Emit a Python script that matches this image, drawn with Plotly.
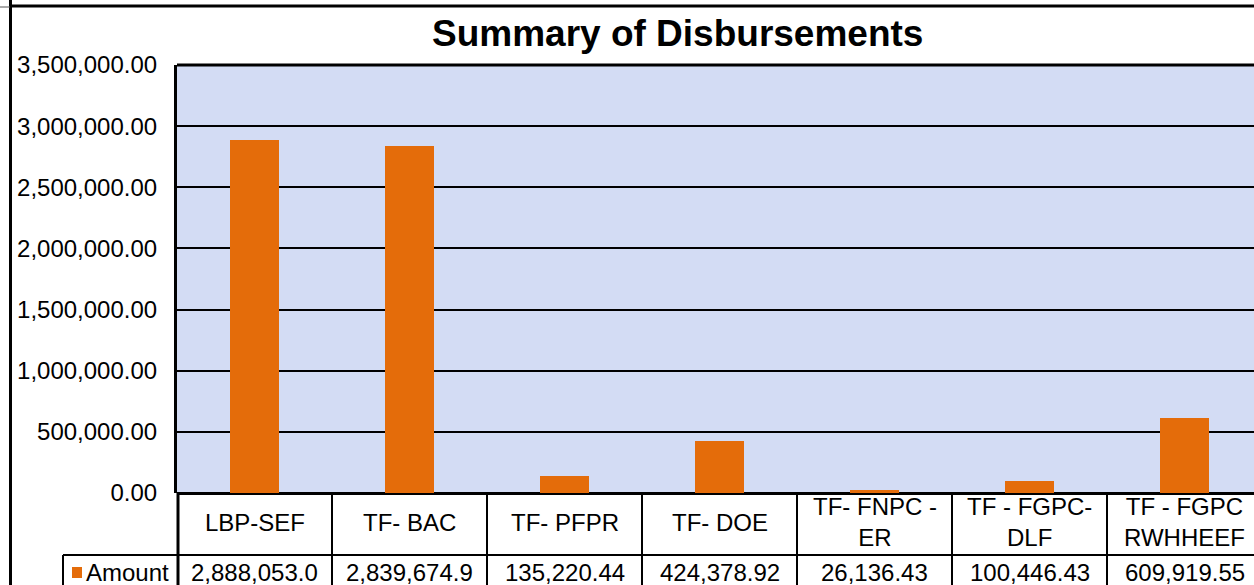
import plotly.graph_objects as go

categories = ["LBP-SEF", "TF- BAC", "TF- PFPR", "TF- DOE", "TF- FNPC -<br>ER", "TF - FGPC-<br>DLF", "TF - FGPC<br>RWHHEEF"]
amounts = [2888053.0, 2839674.9, 135220.44, 424378.92, 26136.43, 100446.43, 609919.55]
amount_labels = ["2,888,053.0", "2,839,674.9", "135,220.44", "424,378.92", "26,136.43", "100,446.43", "609,919.55"]
series_name = "Amount"
title = "Summary of Disbursements"

W, H = 1254, 585
L, R, T, B = 177, 0, 65, 92
PW, PH = W - L - R, H - T - B
COLW = 155.0
FONT = "Liberation Sans, Arial, sans-serif"
BAR = "#E46C0A"


def xp(px):
    return (px - L) / PW


def yp(py):
    return (H - B - py) / PH


fig = go.Figure()
fig.add_trace(go.Bar(x=list(range(len(categories))), y=amounts, width=0.32,
                     marker=dict(color=BAR, line=dict(width=0)), name=series_name,
                     hoverinfo="y"))

shapes = []
# outer frame
shapes.append(dict(type="line", xref="paper", yref="paper", x0=xp(10), x1=xp(W), y0=yp(6), y1=yp(6),
                   line=dict(color="black", width=3)))
shapes.append(dict(type="line", xref="paper", yref="paper", x0=xp(10.5), x1=xp(10.5), y0=yp(0), y1=yp(H),
                   line=dict(color="black", width=3)))
shapes.append(dict(type="line", xref="paper", yref="paper", x0=xp(0), x1=xp(10), y0=yp(7), y1=yp(7),
                   line=dict(color="#555555", width=1)))
# plot top border
shapes.append(dict(type="line", xref="paper", yref="paper", x0=xp(177), x1=xp(W), y0=1, y1=1,
                   line=dict(color="black", width=3)))
# table lines
shapes.append(dict(type="line", xref="paper", yref="paper", x0=xp(63), x1=xp(W), y0=yp(555), y1=yp(555),
                   line=dict(color="black", width=2)))
shapes.append(dict(type="line", xref="paper", yref="paper", x0=xp(63), x1=xp(63), y0=yp(555), y1=yp(H),
                   line=dict(color="black", width=2)))
shapes.append(dict(type="line", xref="paper", yref="paper", x0=xp(178), x1=xp(178), y0=0, y1=yp(H),
                   line=dict(color="black", width=3)))
for k in range(1, len(categories)):
    px = L + k * COLW
    shapes.append(dict(type="line", xref="paper", yref="paper", x0=xp(px), x1=xp(px), y0=0, y1=yp(H),
                       line=dict(color="black", width=2)))
# legend key
shapes.append(dict(type="rect", xref="paper", yref="paper", x0=xp(72), x1=xp(82), y0=yp(578), y1=yp(567),
                   fillcolor=BAR, line=dict(width=0)))

annotations = []
annotations.append(dict(text="<b>" + title + "</b>", xref="paper", yref="paper", x=xp(677), y=yp(33),
                        xanchor="center", yanchor="middle", showarrow=False,
                        font=dict(family=FONT, size=37, color="black")))
for i, (c, a) in enumerate(zip(categories, amount_labels)):
    annotations.append(dict(text=c, xref="x", yref="paper", x=i, y=yp(522), xanchor="center",
                            yanchor="middle", showarrow=False, align="center",
                            font=dict(family=FONT, size=24, color="black")))
    annotations.append(dict(text=a, xref="x", yref="paper", x=i, y=yp(572), xanchor="center",
                            yanchor="middle", showarrow=False,
                            font=dict(family=FONT, size=24, color="black")))
annotations.append(dict(text=series_name, xref="paper", yref="paper", x=xp(84), y=yp(572), xanchor="left",
                        yanchor="middle", showarrow=False, font=dict(family=FONT, size=24, color="black")))

fig.update_layout(
    width=W, height=H,
    margin=dict(l=L, r=R, t=T, b=B, pad=0),
    paper_bgcolor="white",
    plot_bgcolor="#D3DCF4",
    showlegend=False,
    bargap=0,
    font=dict(family=FONT, size=24, color="black"),
    xaxis=dict(range=[-0.5, -0.5 + PW / COLW], showticklabels=False, showgrid=False,
               zeroline=False, showline=False, ticks="", fixedrange=True),
    yaxis=dict(range=[0, 3500000], dtick=500000, tick0=0, tickformat=",.2f",
               showgrid=True, gridcolor="black", gridwidth=2,
               zeroline=True, zerolinecolor="black", zerolinewidth=3,
               showline=True, linecolor="black", linewidth=3,
               ticks="", ticklabelstandoff=12,
               tickfont=dict(family=FONT, size=24, color="black"), fixedrange=True),
    shapes=shapes,
    annotations=annotations,
)

fig.write_html("out.html", config={"displayModeBar": False},
               post_script="document.body.style.margin='0px';document.body.style.overflow='hidden';")
